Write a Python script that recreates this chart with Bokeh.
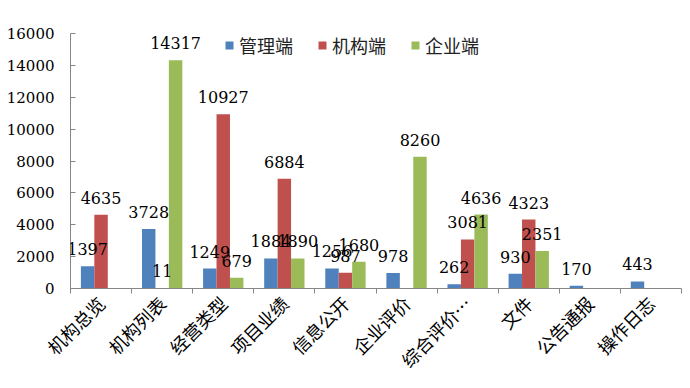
from bokeh.plotting import figure
from bokeh.models import (ColumnDataSource, LabelSet, Legend, LegendItem, Range1d,
                          FixedTicker, CustomJSTickFormatter)
from bokeh.core.properties import value
from bokeh.embed import file_html
from bokeh.resources import INLINE
import math

categories = ["机构总览", "机构列表", "经营类型", "项目业绩", "信息公开",
              "企业评价", "综合评价…", "文件", "公告通报", "操作日志"]
series_names = ["管理端", "机构端", "企业端"]
guanli = [1397, 3728, 1249, 1884, 1256, 978, 262, 930, 170, 443]
jigou = [4635, 11, 10927, 6884, 987, None, 3081, 4323, None, None]
qiye = [None, 14317, 679, 1890, 1680, 8260, 4636, 2351, None, None]
colors = ["#4F81BD", "#C0504D", "#9BBB59"]
y_ticks = [0, 2000, 4000, 6000, 8000, 10000, 12000, 14000, 16000]

SERIF = "DejaVu Serif"
CJK = "Noto Sans CJK SC"

n = len(categories)
p = figure(frame_width=611, frame_height=255, output_backend="svg", toolbar_location=None,
           x_range=Range1d(0, n), y_range=Range1d(0, 16000),
           min_border_left=70, min_border_right=1, min_border_top=33, min_border_bottom=92)
p.outline_line_color = None
p.xgrid.visible = False
p.ygrid.visible = False

bw = 0.22
offsets = [-bw, 0, bw]
renderers = []
for name, vals, col, off in zip(series_names, [guanli, jigou, qiye], colors, offsets):
    xs, ys, txt = [], [], []
    for i, v in enumerate(vals):
        if v is None:
            continue
        xs.append(i + 0.5 + off)
        ys.append(v)
        txt.append(str(v))
    src = ColumnDataSource(dict(x=xs, top=ys, text=txt))
    r = p.vbar(x="x", top="top", width=bw, bottom=0, source=src, fill_color=col, line_color=None)
    renderers.append(r)
    lab = LabelSet(x="x", y="top", text="text", source=src, text_align="center",
                   text_baseline="alphabetic", y_offset=11,
                   text_font=value(SERIF), text_font_size="16px", text_color="black")
    p.add_layout(lab)

centers = [i + 0.5 for i in range(n)]
p.xaxis.ticker = FixedTicker(ticks=centers, minor_ticks=list(range(n + 1)))
p.xaxis.formatter = CustomJSTickFormatter(args=dict(labels=categories),
                                          code="return labels[Math.floor(tick)];")
p.xaxis.major_tick_out = 0
p.xaxis.major_tick_in = 0
p.xaxis.minor_tick_out = 5
p.xaxis.minor_tick_in = 0
p.xaxis.minor_tick_line_color = "#868686"
p.xaxis.axis_line_color = "#868686"
p.xaxis.major_label_orientation = math.pi / 4
p.xaxis.major_label_text_font = CJK
p.xaxis.major_label_text_font_size = "18px"
p.xaxis.major_label_text_color = "black"
p.xaxis.major_label_standoff = 6

p.yaxis.ticker = FixedTicker(ticks=y_ticks, minor_ticks=[])
p.yaxis.major_tick_in = 5
p.yaxis.major_tick_out = 0
p.yaxis.major_tick_line_color = "#868686"
p.yaxis.axis_line_color = "#868686"
p.yaxis.minor_tick_line_color = None
p.yaxis.major_label_text_font = SERIF
p.yaxis.major_label_text_font_size = "15px"
p.yaxis.major_label_text_color = "black"
p.yaxis.major_label_standoff = 16

legend = Legend(items=[LegendItem(label=nm, renderers=[r]) for nm, r in zip(series_names, renderers)],
                orientation="horizontal", location=(154, 229),
                label_text_font=CJK, label_text_font_size="18px",
                label_text_color="#222222", label_height=28,
                glyph_width=10, glyph_height=10, label_standoff=5, spacing=24,
                padding=0, margin=0, border_line_color=None, background_fill_alpha=0)
p.add_layout(legend)

open("out.html", "w").write(file_html(p, INLINE))
